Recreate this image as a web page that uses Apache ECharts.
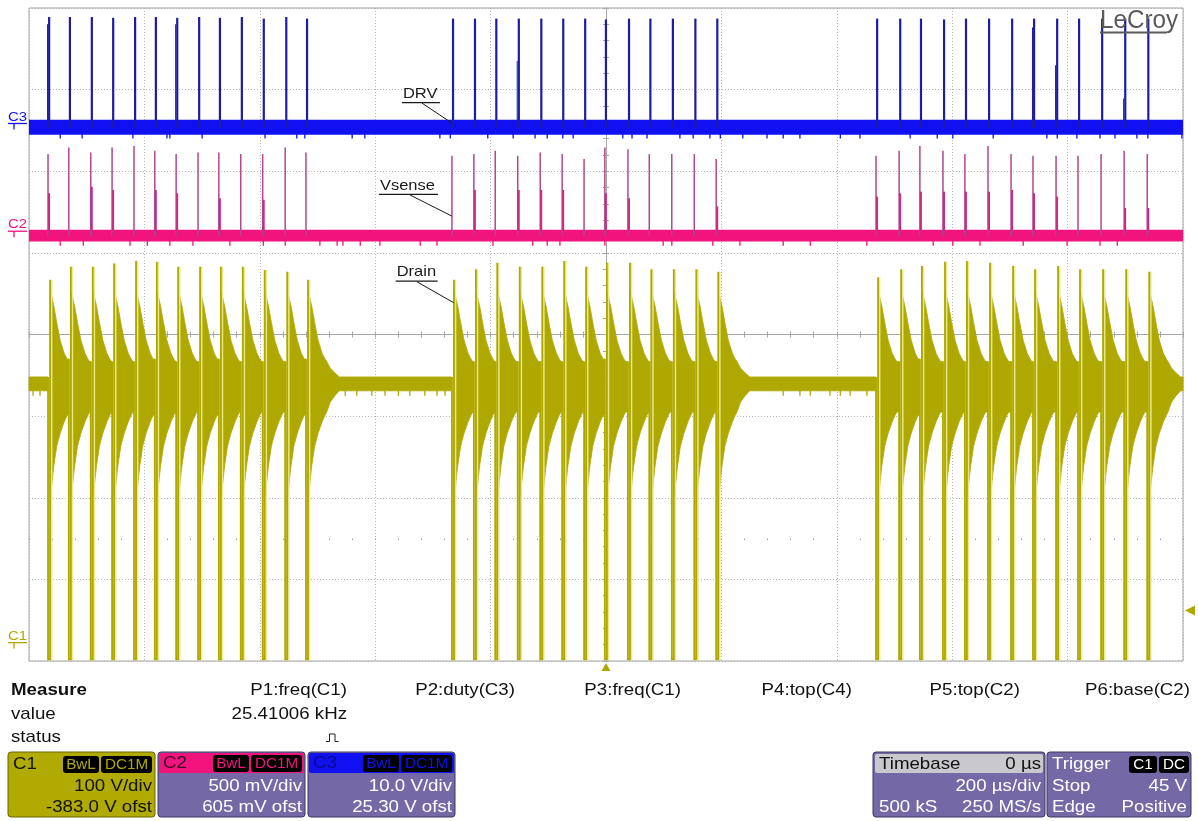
<!DOCTYPE html>
<html>
<head>
<meta charset="utf-8">
<script src="https://cdn.jsdelivr.net/npm/echarts@6/dist/echarts.min.js"></script>
<style>
  html, body { margin: 0; padding: 0; background: #ffffff; }
  #scope { width: 1198px; height: 821px; }
</style>
</head>
<body>
<div id="scope"></div>
<script>
// ---- Acquisition: 200 µs/div, 10 divisions, trigger at t = 0 ----
const timeRange = [-1000, 1000];          // µs
const timeDiv = 200;                      // µs per division

// Channel scales (V/div and offset as shown on the channel boxes)
const c1Scale = { vdiv: 100, offset: -383.0 };   // Drain
const c2Scale = { vdiv: 0.5, offset: 0.605 };    // Vsense
const c3Scale = { vdiv: 10, offset: 25.30 };     // DRV

// Gate turn-on instants, µs from trigger: three bursts of 13 switching cycles
const burstA = [-967, -931, -893, -856, -818, -782, -745, -707, -671, -633, -595, -556, -520];
const burstB = [-267, -229, -192, -153, -114, -76, -38, -2, 38, 75, 114, 153, 191];
const burstC = [468, 508, 544, 584, 622, 662, 702, 740, 780, 818, 858, 898, 938];

// Drain turn-off overshoot peak of each cycle, V
const drainPeakA = [450, 466, 466, 470, 473, 472, 466, 466, 466, 466, 462, 460, 450];
const drainPeakB = [450, 463, 471, 466, 466, 473, 466, 471, 471, 463, 463, 463, 460];
const drainPeakC = [453, 463, 467, 472, 473, 471, 467, 463, 467, 463, 463, 463, 460];

// Current-sense peak and first-column level of each cycle, V (0 = no visible step)
const vsensePeakA = [0.50, 0.54, 0.51, 0.54, 0.55, 0.52, 0.50, 0.51, 0.51, 0.50, 0.50, 0.54, 0.51];
const vsensePeakB = [0.49, 0.50, 0.52, 0.49, 0.51, 0.50, 0.47, 0.54, 0.53, 0.50, 0.50, 0.50, 0.47];
const vsensePeakC = [0.49, 0.52, 0.55, 0.52, 0.50, 0.55, 0.50, 0.49, 0.49, 0.49, 0.50, 0.52, 0.50];
const vsenseStepA = [0.26, 0, 0.30, 0.28, 0, 0.28, 0.26, 0, 0.23, 0, 0.22, 0, 0];
const vsenseStepB = [0, 0.28, 0, 0.28, 0.28, 0.28, 0, 0.26, 0.23, 0, 0, 0, 0.18];
const vsenseStepC = [0.24, 0.26, 0.27, 0.27, 0.27, 0.27, 0.28, 0.26, 0.24, 0, 0, 0.17, 0.17];

// Gate drive high level and occasional partial first column, V
const drvHighA = [13.6, 13.6, 13.6, 13.5, 13.6, 13.6, 13.5, 13.6, 13.5, 13.6, 13.4, 13.6, 13.4];
const drvHighB = [13.4, 13.4, 13.4, 13.4, 13.4, 13.4, 13.4, 13.3, 13.4, 13.4, 13.4, 13.4, 13.4];
const drvHighC = [13.4, 13.4, 13.4, 13.3, 13.4, 13.4, 13.4, 13.4, 13.4, 13.4, 13.4, 13.4, 13.4];
const drvStepA = [12.7, 0, 0, 0, 0, 0, 12.7, 0, 0, 0, 0, 0, 0];
const drvStepB = [0, 0, 0, 8.2, 0, 0, 0, 0, 0, 0, 0, 0, 0];
const drvStepC = [0, 0, 0, 0, 0, 0, 0, 12.3, 7.7, 0, 0, 3.6, 0];

// Switch on-time and the clipped drain low level
const onTime = 3.5;        // µs
const drainFloor = -15;    // V

// Drain ringing envelope after turn-off (µs after turn-on, upper / lower V)
const ringOffset = [4, 6, 10, 15, 21, 28, 33, 36];
const ringUpper  = [434, 430, 418, 398, 376, 360, 353, 350];
const ringLower  = [186, 196, 222, 246, 262, 276, 284, 288];
const firstRingLower = 155;              // deeper first swing at burst start
const tailOffset = [42, 50, 58];          // decay after the last cycle of a burst
const tailUpper  = [342, 336, 331];
const tailLower  = [300, 308, 314];
const busBand = [314, 331];               // idle drain between bursts, V

// Baseline noise bands and the short excursions below them
const drvNoise = [-0.82, 1.0];            // V
const vsenseNoise = [-0.036, 0.036];      // V
const drvGlitchLow = -1.3;                // V
const vsenseGlitchLow = -0.062;           // V
const drainGlitchLow = 308;               // V
const drvGlitchT = [-946, -908, -820, -761, -756, -700, -591, -536, -522, -440, -418, -288, -270, -205, -161, -123,
  -102, -75, -57, 29, 45, 71, 128, 151, 180, 198, 237, 279, 307, 336, 406, 440, 527, 574, 601, 671, 764, 782, 816,
  856, 882, 920, 939, 998];
const vsenseGlitchT = [-946, -906, -825, -795, -756, -716, -652, -594, -556, -496, -466, -456, -426, -392, -322,
  -293, -196, -127, -102, -80, -2, 99, 114, 185, 232, 307, 354, 452, 567, 601, 648, 723, 799, 856, 886];
const drainGlitchT = [-993, -981, -452, -432, -406, -383, -360, -340, -314, -293, -279, 307, 336, 354, 388, 406, 423, 452];

// ---- colours ----
const olive = '#aea800';
const oliveBox = '#b1aa00';
const pink = '#f0147c';
const blue = '#1010f0';
const navy = '#1c1ca6';
const plum = '#b4468e';
const lavender = '#7469a6';
const gridGray = '#b4b4b4';
const font = '"Liberation Sans", Arial, sans-serif';

// ---- assemble per-cycle records ----
const bursts = [
  { t: burstA, pk: drainPeakA, vp: vsensePeakA, vs: vsenseStepA, dh: drvHighA, ds: drvStepA },
  { t: burstB, pk: drainPeakB, vp: vsensePeakB, vs: vsenseStepB, dh: drvHighB, ds: drvStepB },
  { t: burstC, pk: drainPeakC, vp: vsensePeakC, vs: vsenseStepC, dh: drvHighC, ds: drvStepC }
];
const cycles = [];
bursts.forEach(b => b.t.forEach((t, i) => cycles.push({
  t, first: i === 0, last: i === b.t.length - 1,
  peak: b.pk[i], vPeak: b.vp[i], vStep: b.vs[i], dHigh: b.dh[i], dStep: b.ds[i]
})));

// Drain envelope segments: idle band, then one segment after each turn-off
const segments = [{
  up: [[timeRange[0], busBand[1]], [cycles[0].t, busBand[1]]],
  lo: [[timeRange[0], busBand[0]], [cycles[0].t, busBand[0]]]
}];
cycles.forEach((c, k) => {
  const end = k < cycles.length - 1 ? cycles[k + 1].t : timeRange[1];
  const offs = c.last ? ringOffset.concat(tailOffset) : ringOffset;
  const ups = c.last ? ringUpper.concat(tailUpper) : ringUpper;
  const los = c.last ? ringLower.concat(tailLower) : ringLower;
  const up = [], lo = [];
  offs.forEach((o, j) => {
    if (c.t + o < end) {
      up.push([c.t + o, ups[j]]);
      lo.push([c.t + o, (j === 0 && c.first) ? firstRingLower : los[j]]);
    }
  });
  up.push([end, up[up.length - 1][1]]);
  lo.push([end, lo[lo.length - 1][1]]);
  segments.push({ up, lo });
});
cycles.forEach((c, k) => { c.before = segments[k].up[segments[k].up.length - 1][1]; });

function hiddenY(min, max) {
  return { type: 'value', min, max, show: false, splitLine: { show: false } };
}
function bandSeries(yAxisIndex, band, color) {
  return {
    type: 'custom', xAxisIndex: 0, yAxisIndex, silent: true, z: 3,
    data: [[timeRange[0], band[0], timeRange[1], band[1]]],
    encode: { x: [0, 2], y: [1, 3] },
    renderItem: (params, api) => {
      const a = api.coord([api.value(0), api.value(3)]), b = api.coord([api.value(2), api.value(1)]);
      return { type: 'rect', shape: { x: a[0], y: a[1], width: b[0] - a[0], height: b[1] - a[1] }, style: { fill: color } };
    }
  };
}
function glitchSeries(yAxisIndex, times, from, to, color) {
  return {
    type: 'custom', xAxisIndex: 0, yAxisIndex, silent: true, z: 3,
    data: times.map(t => [t, to, from]),
    encode: { x: 0, y: [1, 2] },
    renderItem: (params, api) => {
      const a = api.coord([api.value(0), api.value(2)]), b = api.coord([api.value(0), api.value(1)]);
      return { type: 'rect', shape: { x: a[0] - 0.6, y: a[1], width: 1.3, height: b[1] - a[1] }, style: { fill: color } };
    }
  };
}

const option = {
  animation: false,
  backgroundColor: '#ffffff',
  grid: { left: 29, top: 8, right: 15, bottom: 160, show: true, borderColor: '#a2a2a2', borderWidth: 1, backgroundColor: 'transparent' },
  xAxis: [
    { // time axis: dotted divisions, centre line with ticks pointing up
      type: 'value', min: timeRange[0], max: timeRange[1], interval: timeDiv,
      axisLabel: { show: false },
      axisLine: { show: true, onZero: true, onZeroAxisIndex: 0, lineStyle: { color: '#a6a6a6', width: 1 } },
      axisTick: { show: true, inside: true, length: 3, lineStyle: { color: '#a6a6a6' } },
      minorTick: { show: true, splitNumber: 5, length: 3, lineStyle: { color: '#a6a6a6' } },
      splitLine: { show: true, lineStyle: { color: gridGray, type: [1, 2], width: 1 } }
    },
    { // same centre line, ticks pointing down
      type: 'value', min: timeRange[0], max: timeRange[1], interval: timeDiv, position: 'top',
      axisLabel: { show: false },
      axisLine: { show: true, onZero: true, onZeroAxisIndex: 0, lineStyle: { color: '#a6a6a6', width: 1 } },
      axisTick: { show: true, inside: true, length: 3, lineStyle: { color: '#a6a6a6' } },
      minorTick: { show: true, splitNumber: 5, length: 3, lineStyle: { color: '#a6a6a6' } },
      splitLine: { show: false }
    },
    { // row of sub-division dots 2.5 divisions below centre
      type: 'value', min: timeRange[0], max: timeRange[1], interval: timeDiv,
      axisLabel: { show: false },
      axisLine: { show: true, onZero: true, onZeroAxisIndex: 5, lineStyle: { opacity: 0 } },
      axisTick: { show: true, inside: true, length: 1.5, lineStyle: { color: '#9a9a9a' } },
      minorTick: { show: true, splitNumber: 5, length: 1.5, lineStyle: { color: '#9a9a9a' } },
      splitLine: { show: false }
    }
  ],
  yAxis: [
    { // divisions: dotted lines, vertical centre line with ticks to the right
      type: 'value', min: -4, max: 4, interval: 1,
      axisLabel: { show: false },
      axisLine: { show: true, onZero: true, onZeroAxisIndex: 0, lineStyle: { color: '#a6a6a6', width: 1 } },
      axisTick: { show: true, inside: true, length: 3, lineStyle: { color: '#a6a6a6' } },
      minorTick: { show: true, splitNumber: 5, length: 3, lineStyle: { color: '#a6a6a6' } },
      splitLine: { show: true, lineStyle: { color: gridGray, type: [1, 2], width: 1 } }
    },
    { // vertical centre line ticks to the left
      type: 'value', min: -4, max: 4, interval: 1, position: 'right',
      axisLabel: { show: false },
      axisLine: { show: true, onZero: true, onZeroAxisIndex: 0, lineStyle: { color: '#a6a6a6', width: 1 } },
      axisTick: { show: true, inside: true, length: 3, lineStyle: { color: '#a6a6a6' } },
      minorTick: { show: true, splitNumber: 5, length: 3, lineStyle: { color: '#a6a6a6' } },
      splitLine: { show: false }
    },
    hiddenY(-4 * c1Scale.vdiv - c1Scale.offset, 4 * c1Scale.vdiv - c1Scale.offset),   // 2: C1 volts
    hiddenY(-4 * c2Scale.vdiv - c2Scale.offset, 4 * c2Scale.vdiv - c2Scale.offset),   // 3: C2 volts
    hiddenY(-4 * c3Scale.vdiv - c3Scale.offset, 4 * c3Scale.vdiv - c3Scale.offset),   // 4: C3 volts
    hiddenY(-1.5, 6.5)                                                                  // 5: dot row reference
  ],
  series: [
    bandSeries(4, drvNoise, blue),
    glitchSeries(4, drvGlitchT, drvNoise[0] + 0.2, drvGlitchLow, blue),
    { // DRV gate pulses
      type: 'custom', xAxisIndex: 0, yAxisIndex: 4, silent: true, z: 4,
      data: cycles.map(c => [c.t, 0, c.t + onTime, c.dHigh]),
      encode: { x: [0, 2], y: [1, 3] },
      renderItem: (params, api) => {
        const c = cycles[params.dataIndex];
        const a = api.coord([c.t, c.dHigh]), b = api.coord([c.t + onTime, 0]);
        const children = [{ type: 'rect', shape: { x: a[0], y: a[1], width: Math.max(2.2, b[0] - a[0]), height: b[1] - a[1] }, style: { fill: navy } }];
        if (c.dStep > 0) {
          const s = api.coord([c.t - onTime * 0.5, c.dStep]);
          children.push({ type: 'rect', shape: { x: s[0], y: s[1], width: a[0] - s[0], height: b[1] - s[1] }, style: { fill: navy } });
        }
        return { type: 'group', children };
      }
    },
    bandSeries(3, vsenseNoise, pink),
    glitchSeries(3, vsenseGlitchT, vsenseNoise[0] + 0.01, vsenseGlitchLow, pink),
    { // Vsense current ramps
      type: 'custom', xAxisIndex: 0, yAxisIndex: 3, silent: true, z: 4,
      data: cycles.map(c => [c.t, 0, c.t + onTime, c.vPeak]),
      encode: { x: [0, 2], y: [1, 3] },
      renderItem: (params, api) => {
        const c = cycles[params.dataIndex];
        const base = api.coord([c.t, 0]), top = api.coord([c.t, c.vPeak]);
        const children = [{ type: 'line', shape: { x1: base[0], y1: base[1], x2: top[0], y2: top[1] }, style: { stroke: plum, lineWidth: 1.5 } }];
        if (c.vStep > 0) {
          const s = api.coord([c.t + onTime, c.vStep]);
          children.push({ type: 'rect', shape: { x: base[0], y: s[1], width: s[0] - base[0], height: base[1] - s[1] }, style: { fill: '#cc2a82' } });
        }
        return { type: 'group', children };
      }
    },
    glitchSeries(2, drainGlitchT, busBand[0] + 2, drainGlitchLow, olive),
    { // Drain ringing envelope
      type: 'custom', xAxisIndex: 0, yAxisIndex: 2, silent: true, z: 3,
      data: segments.map(s => [s.up[0][0], s.lo[0][1], s.up[s.up.length - 1][0], s.up[0][1]]),
      encode: { x: [0, 2], y: [1, 3] },
      renderItem: (params, api) => {
        const s = segments[params.dataIndex];
        const pts = s.up.map(p => api.coord(p)).concat(s.lo.slice().reverse().map(p => api.coord(p)));
        return { type: 'polygon', shape: { points: pts }, style: { fill: olive, stroke: olive, lineWidth: 0.8 } };
      }
    },
    { // Drain switching edges: turn-on to the floor, turn-off up to the overshoot peak
      type: 'custom', xAxisIndex: 0, yAxisIndex: 2, silent: true, z: 4,
      data: cycles.map(c => [c.t, drainFloor, c.t + onTime, c.peak]),
      encode: { x: [0, 2], y: [1, 3] },
      renderItem: (params, api) => {
        const c = cycles[params.dataIndex];
        const pts = [
          api.coord([c.t, c.before]), api.coord([c.t, drainFloor]),
          api.coord([c.t + onTime, drainFloor]), api.coord([c.t + onTime, c.peak])
        ];
        return { type: 'polyline', shape: { points: pts }, style: { stroke: olive, lineWidth: 1.8, fill: 'none', shadowColor: 'rgba(236,234,140,0.95)', shadowOffsetX: 1.5 } };
      }
    }
  ]
};

const chart = echarts.init(document.getElementById('scope'), null, { renderer: 'canvas' });
chart.setOption(option);

// ---- overlay text and markers ----
const toPx = (yAxisIndex, t, v) => chart.convertToPixel({ xAxisIndex: 0, yAxisIndex }, [t, v]);

function txt(x, y, s, o) {
  o = o || {};
  return {
    type: 'text', x, y, scaleX: o.sx || 1.1, silent: true, z: 100,
    style: {
      text: s, fill: o.fill || '#111111',
      font: (o.bold ? 'bold ' : '') + (o.size || 17) + 'px ' + font,
      align: o.align || 'left', verticalAlign: 'middle',
      textAlign: o.align || 'left', textVerticalAlign: 'middle'
    }
  };
}
function box(x, y, w, h, fill, o) {
  o = o || {};
  return { type: 'rect', silent: true, z: 90, shape: { x, y, width: w, height: h, r: o.r == null ? 3 : o.r }, style: { fill, stroke: o.stroke || null, lineWidth: o.lw || 1 } };
}
function seg(x1, y1, x2, y2, color, w) {
  return { type: 'line', silent: true, z: 100, shape: { x1, y1, x2, y2 }, style: { stroke: color, lineWidth: w || 1 } };
}
function badge(x, y, w, s, color) {
  return [box(x, y, w, 17, '#000000', { r: 3 }), txt(x + w / 2, y + 8.8, s, { fill: color, size: 14.5, align: 'center', sx: 1.05 })];
}

const g = [];

// trace annotations: label, underline and leader to the trace
const notes = [
  { text: 'DRV',    axis: 4, t: burstB[0],     v: 0.6,  dx: -49, dy: -29.5, w: 35, lead: -30 },
  { text: 'Vsense', axis: 3, t: burstB[0],     v: 0.12, dx: -72, dy: -30.7, w: 56, lead: -42 },
  { text: 'Drain',  axis: 2, t: burstB[0] + 3, v: 422,  dx: -57, dy: -30.5, w: 39, lead: -37 }
];
notes.forEach(n => {
  const p = toPx(n.axis, n.t, n.v);
  g.push(txt(p[0] + n.dx, p[1] + n.dy, n.text, { size: 15, fill: '#1a1a1a' }));
  g.push(seg(p[0] + n.dx - 1, p[1] + n.dy + 9, p[0] + n.dx + n.w + 2, p[1] + n.dy + 9, '#1a1a1a', 1.2));
  g.push(seg(p[0] + n.lead, p[1] + n.dy + 9.5, p[0], p[1], '#1a1a1a', 1));
});

// channel ground markers at the left edge
[[4, 'C3', blue], [3, 'C2', pink], [2, 'C1', olive]].forEach(([ax, name, col]) => {
  const y0 = toPx(ax, 0, 0)[1];
  g.push(txt(8, y0 - 11, name, { size: 13.5, fill: col }));
  g.push(seg(8, y0 - 4.5, 27, y0 - 4.5, col, 1.3));
  g.push(seg(14, y0 - 4.5, 14, y0 + 1.5, col, 1.3));
});

// trigger position (bottom) and trigger level on C1 (right)
const trigX = toPx(2, 0, 0)[0];
const trigY = toPx(2, 0, 45)[1];
g.push({ type: 'polygon', silent: true, z: 100, shape: { points: [[trigX, 663], [trigX - 4.5, 671], [trigX + 4.5, 671]] }, style: { fill: olive } });
g.push({ type: 'polygon', silent: true, z: 100, shape: { points: [[1185, trigY], [1195, trigY - 5], [1195, trigY + 5]] }, style: { fill: olive } });

// logo
g.push(txt(1100, 21, 'LeCroy', { size: 25, fill: '#5a5a5a', sx: 0.97 }));
g.push(seg(1100, 32.5, 1167, 32.5, '#5a5a5a', 1.8));

// measurement table
g.push(txt(11, 690, 'Measure', { bold: true }));
g.push(txt(11, 714, 'value'));
g.push(txt(11, 737, 'status'));
[['P1:freq(C1)', 347], ['P2:duty(C3)', 515], ['P3:freq(C1)', 681], ['P4:top(C4)', 852], ['P5:top(C2)', 1020], ['P6:base(C2)', 1190]]
  .forEach(([s, x]) => g.push(txt(x, 690, s, { align: 'right' })));
g.push(txt(347, 714, '25.41006 kHz', { align: 'right' }));
g.push({ type: 'polyline', silent: true, z: 100, shape: { points: [[326, 741.5], [329.5, 741.5], [329.5, 734], [335, 734], [335, 741.5], [338.5, 741.5]] }, style: { stroke: '#222', lineWidth: 1, fill: 'none' } });

// channel boxes
g.push(box(8, 752, 147, 65, oliveBox, { stroke: '#6a6400' }));
g.push(txt(13, 764, 'C1', { fill: '#111' }));
g.push(...badge(63, 756, 36, 'BwL', oliveBox), ...badge(101, 756, 51, 'DC1M', oliveBox));
g.push(txt(152, 786, '100 V/div', { align: 'right', fill: '#111' }));
g.push(txt(152, 807, '-383.0 V ofst', { align: 'right', fill: '#111' }));

[[158, pink, 'C2', '#3a0a28', '500 mV/div', '605 mV ofst'], [308, blue, 'C3', '#0a0a90', '10.0 V/div', '25.30 V ofst']].forEach(([x, col, name, nameCol, l1, l2]) => {
  g.push(box(x, 752, 147, 65, lavender, { stroke: '#3c3660' }));
  g.push(box(x + 1, 753, 145, 20, col, { r: 2 }));
  g.push(txt(x + 5, 763, name, { fill: nameCol }));
  g.push(...badge(x + 55, 755, 36, 'BwL', col), ...badge(x + 93, 755, 51, 'DC1M', col));
  g.push(txt(x + 144, 786, l1, { align: 'right', fill: '#ffffff' }));
  g.push(txt(x + 144, 807, l2, { align: 'right', fill: '#ffffff' }));
});

// timebase and trigger boxes
g.push(box(873, 752, 172, 65, lavender, { stroke: '#3c3660' }));
g.push(box(875, 754, 168, 19, '#c9c9cd', { r: 2 }));
g.push(txt(879, 764, 'Timebase', { fill: '#111' }));
g.push(txt(1041, 764, '0 µs', { align: 'right', fill: '#111' }));
g.push(txt(1041, 786, '200 µs/div', { align: 'right', fill: '#ffffff' }));
g.push(txt(879, 807, '500 kS', { fill: '#ffffff' }));
g.push(txt(1041, 807, '250 MS/s', { align: 'right', fill: '#ffffff' }));

g.push(box(1047, 752, 144, 65, lavender, { stroke: '#3c3660' }));
g.push(txt(1052, 764, 'Trigger', { fill: '#ffffff' }));
g.push(...badge(1129, 756, 28, 'C1', '#ffffff'), ...badge(1159, 756, 30, 'DC', '#ffffff'));
g.push(txt(1052, 786, 'Stop', { fill: '#ffffff' }));
g.push(txt(1187, 786, '45 V', { align: 'right', fill: '#ffffff' }));
g.push(txt(1052, 807, 'Edge', { fill: '#ffffff' }));
g.push(txt(1187, 807, 'Positive', { align: 'right', fill: '#ffffff' }));

chart.setOption({ graphic: g });
</script>
</body>
</html>
